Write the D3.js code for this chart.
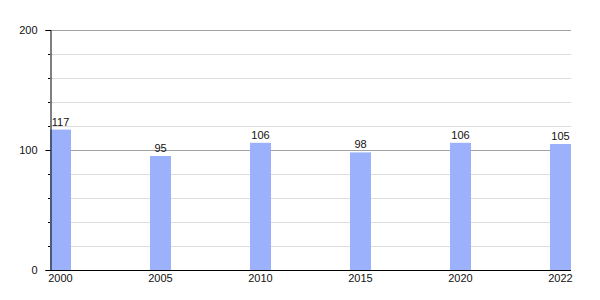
<!DOCTYPE html>
<html><head><meta charset="utf-8">
<script src="https://cdn.jsdelivr.net/npm/d3@7"></script>
<style>body{margin:0;background:#fff}svg{display:block}text{font-family:"Liberation Sans",Arial,sans-serif}</style>
</head><body><svg id="c" width="600" height="300"></svg>
<script>
const categories = ["2000","2005","2010","2015","2020","2022"];
const values = [117, 95, 106, 98, 106, 105];
const yTicks = [0, 100, 200];
const yMinorTicks = [20, 40, 60, 80, 120, 140, 160, 180];

(function () {
const svg = d3.select("#c");
const mLeft = 50, mRight = 571, mTop = 30, mBottom = 270, barW = 21;
const x = d3.scalePoint().domain(categories).range([mLeft, mRight - barW]);
const y = d3.scaleLinear().domain([0, 200]).range([mBottom, mTop]);

svg.append("g").selectAll("line").data(yMinorTicks).join("line")
  .attr("x1", mLeft).attr("x2", mRight).attr("y1", d => y(d)+0.5).attr("y2", d => y(d)+0.5)
  .attr("stroke", "#dedede").attr("stroke-width", 1);
svg.append("g").selectAll("line").data(yTicks.filter(d => d > 0)).join("line")
  .attr("x1", mLeft).attr("x2", mRight).attr("y1", d => y(d)+0.5).attr("y2", d => y(d)+0.5)
  .attr("stroke", "#a0a0a0").attr("stroke-width", 1);

svg.append("g").selectAll("rect").data(values).join("rect")
  .attr("x", (d, i) => x(categories[i])).attr("width", barW)
  .attr("y", d => y(d)).attr("height", d => mBottom - y(d))
  .attr("fill", "#9bb1fb");

svg.append("g").selectAll("text").data(values).join("text")
  .attr("x", (d, i) => x(categories[i]) + barW / 2).attr("y", d => y(d) - 4)
  .attr("text-anchor", "middle").attr("font-size", 11).attr("fill", "#111")
  .text(d => d);

const yAxis = d3.axisLeft(y).tickValues(yTicks).tickSize(5).tickPadding(8);
const gy = svg.append("g").attr("transform", `translate(${mLeft+0.5},0)`).call(yAxis);
gy.select(".domain").attr("stroke", "#000");
gy.selectAll("text").attr("font-size", 11).attr("fill", "#111").attr("font-family", '"Liberation Sans",Arial,sans-serif');
gy.selectAll(".tick line").attr("stroke", "#000");
svg.append("g").selectAll("line").data(yMinorTicks).join("line")
  .attr("x1", mLeft - 2).attr("x2", mLeft).attr("y1", d => y(d)+0.5).attr("y2", d => y(d)+0.5)
  .attr("stroke", "#000");

svg.append("line").attr("x1", mLeft).attr("x2", mRight).attr("y1", mBottom + 0.5).attr("y2", mBottom + 0.5).attr("stroke", "#000");

svg.append("g").selectAll("text").data(categories).join("text")
  .attr("x", d => x(d) + barW / 2).attr("y", mBottom + 12)
  .attr("text-anchor", "middle").attr("font-size", 11).attr("fill", "#111")
  .text(d => d);
})();
</script></body></html>
